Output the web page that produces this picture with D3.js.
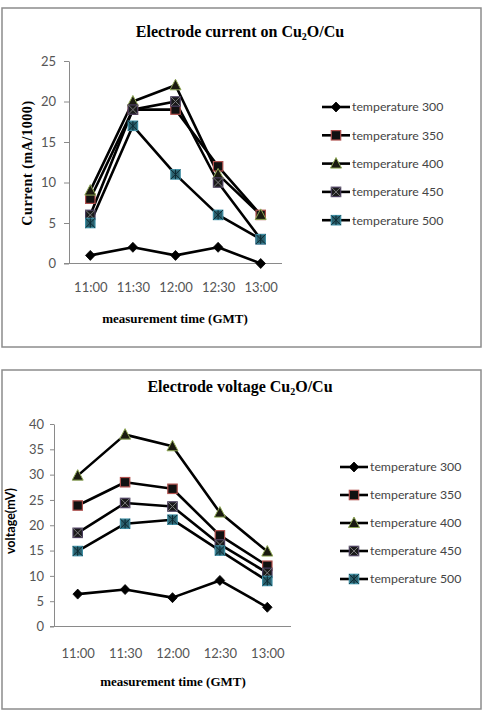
<!DOCTYPE html>
<html><head><meta charset="utf-8">
<script src="https://cdn.jsdelivr.net/npm/d3@7"></script>
<style>body{margin:0;background:#fff}svg{display:block}</style>
</head><body>
<svg id="c" width="487" height="717"></svg>
<script>
const categories = ["11:00","11:30","12:00","12:30","13:00"];
const seriesNames = ["temperature 300","temperature 350","temperature 400","temperature 450","temperature 500"];
// Chart 1: current (mA/1000)
const current300 = [1, 2, 1, 2, 0];
const current350 = [8, 19, 19, 12, 6];
const current400 = [9, 20, 22, 11, 6];
const current450 = [6, 19, 20, 10, 3];
const current500 = [5, 17, 11, 6, 3];
const currentTicks = [0, 5, 10, 15, 20, 25];
// Chart 2: voltage (mV)
const voltage300 = [6.4, 7.3, 5.7, 9.1, 3.8];
const voltage350 = [23.9, 28.5, 27.2, 18, 12];
const voltage400 = [29.8, 37.9, 35.6, 22.5, 14.8];
const voltage450 = [18.5, 24.4, 23.7, 16.2, 10.6];
const voltage500 = [14.9, 20.3, 21.1, 15, 9];
const voltageTicks = [0, 5, 10, 15, 20, 25, 30, 35, 40];

const svg = d3.select("#c");
const markerTypes = ["diamond","square","triangle","xsquare","starsquare"];

function drawMarker(g, type, x, y){
  const s = 4.7;
  if(type==="diamond"){
    g.append("path").attr("d",`M${x},${y-5}L${x+4.8},${y}L${x},${y+5}L${x-4.8},${y}Z`).attr("fill","#000").attr("stroke","#000").attr("stroke-width",0.8);
  } else if(type==="square"){
    g.append("rect").attr("x",x-s).attr("y",y-s).attr("width",2*s).attr("height",2*s).attr("fill","#111").attr("stroke","#b0504d").attr("stroke-width",1.2);
  } else if(type==="triangle"){
    g.append("path").attr("d",`M${x},${y-6}L${x+5.5},${y+4.5}L${x-5.5},${y+4.5}Z`).attr("fill","#1a1a10").attr("stroke","#8fa855").attr("stroke-width",1);
  } else if(type==="xsquare"){
    g.append("rect").attr("x",x-s).attr("y",y-s).attr("width",2*s).attr("height",2*s).attr("fill","#1a1a1a").attr("stroke","#4a3d5e").attr("stroke-width",1.2);
    g.append("path").attr("d",`M${x-s},${y-s}L${x+s},${y+s}M${x+s},${y-s}L${x-s},${y+s}`).attr("stroke","#7a7a7a").attr("stroke-width",1);
  } else {
    g.append("rect").attr("x",x-s).attr("y",y-s).attr("width",2*s).attr("height",2*s).attr("fill","#2a5f6c").attr("stroke","#3f8fa5").attr("stroke-width",1.2);
    g.append("path").attr("d",`M${x-s},${y-s}L${x+s},${y+s}M${x+s},${y-s}L${x-s},${y+s}M${x},${y-s}L${x},${y+s}`).attr("stroke","#0d2a33").attr("stroke-width",1);
  }
}

function chart(opt){
  const g = svg.append("g");
  g.append("rect").attr("x",opt.frame[0]).attr("y",opt.frame[1]).attr("width",opt.frame[2]).attr("height",opt.frame[3])
    .attr("fill","#fff").attr("stroke","#8c8c8c").attr("stroke-width",1.5);
  const t = g.append("text").attr("x",opt.titleX).attr("y",opt.titleY).attr("text-anchor","middle")
    .attr("font-family","Liberation Serif, Times New Roman, serif").attr("font-weight","bold").attr("font-size",16).attr("fill","#000");
  t.append("tspan").text(opt.titlePre);
  t.append("tspan").text("2").attr("font-size",10).attr("dy",3);
  t.append("tspan").text("O/Cu").attr("dy",-3);

  const x = d3.scalePoint().domain(categories).range([opt.xr[0], opt.xr[1]]).padding(0.5);
  const y = d3.scaleLinear().domain([0, d3.max(opt.ticks)]).range([opt.yr[0], opt.yr[1]]);

  const ya = g.append("g").attr("transform",`translate(${opt.xr[0]},0)`)
    .call(d3.axisLeft(y).tickValues(opt.ticks).tickSize(opt.tickSize).tickPadding(opt.tickPad).tickSizeOuter(0));
  ya.select(".domain").attr("stroke","#8a8a8a");
  ya.selectAll(".tick line").attr("stroke","#8a8a8a");
  ya.selectAll("text").attr("font-family","Lato, Open Sans, sans-serif").attr("font-size",13).attr("fill","#555");

  const xa = g.append("g").attr("transform",`translate(0,${opt.yr[0]})`)
    .call(d3.axisBottom(x).tickSize(0).tickPadding(opt.xPad));
  xa.select(".domain").attr("stroke","#8a8a8a").attr("d",`M${opt.xr[0]-opt.tickSize},0H${opt.xr[1]}`);
  xa.selectAll("text").attr("font-family","Lato, Open Sans, sans-serif").attr("font-size",13).attr("fill","#555");

  g.append("text").attr("x",opt.xtX).attr("y",opt.xtY).attr("text-anchor","middle")
    .attr("font-family","Liberation Serif, Times New Roman, serif").attr("font-weight","bold").attr("font-size",13).attr("fill","#000")
    .text("measurement time (GMT)");
  g.append("text").attr("transform",`translate(${opt.ytX},${opt.ytY}) rotate(-90)`).attr("text-anchor","middle")
    .attr("font-family",opt.ytFont).attr("font-weight","bold").attr("font-size",opt.ytSize).attr("fill","#000")
    .attr("letter-spacing",opt.ytSpacing||0)
    .text(opt.yTitle);

  const line = d3.line().x((d,i)=>x(categories[i])).y(d=>y(d));
  opt.series.forEach((vals)=>{
    g.append("path").datum(vals).attr("d",line).attr("fill","none").attr("stroke","#000").attr("stroke-width",2.6).attr("stroke-linejoin","round");
  });
  opt.series.forEach((vals,si)=>{
    vals.forEach((v,i)=>drawMarker(g, markerTypes[si], x(categories[i]), y(v)));
  });

  seriesNames.forEach((name,i)=>{
    const ly = opt.legY + i*opt.legStep;
    g.append("line").attr("x1",opt.legX).attr("x2",opt.legX+28).attr("y1",ly).attr("y2",ly).attr("stroke","#000").attr("stroke-width",2.6);
    drawMarker(g, markerTypes[i], opt.legX+14, ly);
    g.append("text").attr("x",opt.legX+30).attr("y",ly).attr("dy","0.35em")
      .attr("font-family","Lato, Open Sans, sans-serif").attr("font-size",12.3).attr("fill","#444").text(name);
  });
}

chart({
  frame:[2,8,479,339], titleX:240, titleY:37, titlePre:"Electrode current on Cu",
  xr:[69,282], yr:[263.5,61], ticks:currentTicks, tickSize:5, tickPad:8, xPad:19,
  xtX:175, xtY:323, ytX:32, ytY:163, yTitle:"Current (mA/1000)", ytFont:"Liberation Serif, Times New Roman, serif", ytSize:14, ytSpacing:0.6,
  series:[current300,current350,current400,current450,current500],
  legX:322, legY:107, legStep:28.3
});
chart({
  frame:[2,370,479,339], titleX:240, titleY:392, titlePre:"Electrode voltage Cu",
  xr:[54,291], yr:[626.5,424], ticks:voltageTicks, tickSize:4, tickPad:6, xPad:22,
  xtX:173, xtY:686, ytX:15, ytY:521, yTitle:"voltage(mV)", ytFont:"Lato, Open Sans, sans-serif", ytSize:12.5,
  series:[voltage300,voltage350,voltage400,voltage450,voltage500],
  legX:340, legY:467, legStep:28
});
</script>
</body></html>
